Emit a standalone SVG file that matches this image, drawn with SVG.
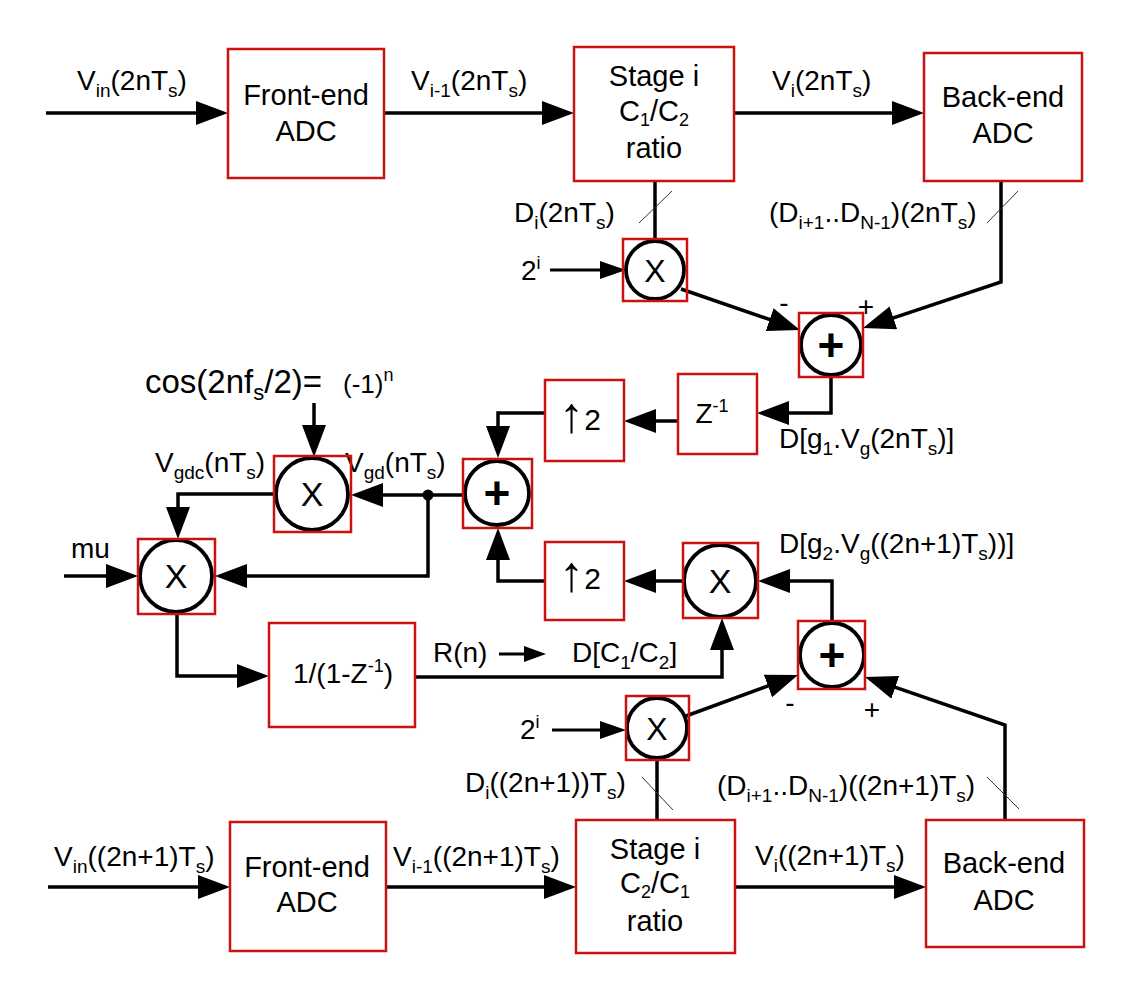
<svg xmlns="http://www.w3.org/2000/svg" width="1125" height="988" viewBox="0 0 1125 988">
<style>
text { font-family: "Liberation Sans", Arial, "DejaVu Sans", sans-serif; font-size: 28px; fill: #000; }
.sb { font-size: 19px; }
.sbb { font-size: 18px; }
.sp { font-size: 18px; }
.mid { text-anchor: middle; }
.bt { font-size: 29px; }
.box { fill: #fff; stroke: #cc1111; stroke-width: 2.5; }
.rbox { fill: none; stroke: #cc1111; stroke-width: 2.5; }
.circ { fill: #fff; stroke: #000; stroke-width: 3.8; }
.wire { fill: none; stroke: #000; stroke-width: 3.5; }
.wthin { fill: none; stroke: #000; stroke-width: 3; }
.slash { stroke: #333; stroke-width: 1; }
.xs { font-size: 34px; }
.pl { font-size: 46px; font-weight: bold; }
.arr { font-size: 50px; }
</style>
<defs>
<marker id="ah" markerUnits="userSpaceOnUse" markerWidth="32" markerHeight="24" refX="22" refY="12" orient="auto" viewBox="0 0 32 24"><path d="M0,0 L32,12 L0,24 Z" fill="#000"/></marker>
<marker id="as" markerUnits="userSpaceOnUse" markerWidth="26" markerHeight="18" refX="18" refY="9" orient="auto" viewBox="0 0 26 18"><path d="M0,0 L26,9 L0,18 Z" fill="#000"/></marker>
<marker id="ar" markerUnits="userSpaceOnUse" markerWidth="22" markerHeight="16" refX="14" refY="8" orient="auto" viewBox="0 0 22 16"><path d="M0,0 L22,8 L0,16 Z" fill="#000"/></marker>
</defs>

<g id="connectors">
  <path class="wire" d="M46,113 H218" marker-end="url(#ah)"/>
  <path class="wire" d="M384,113 H564" marker-end="url(#ah)"/>
  <path class="wire" d="M734,113 H914" marker-end="url(#ah)"/>
  <path class="wire" d="M655,181 V241"/>
  <line class="slash" x1="639" y1="223" x2="672" y2="191"/>
  <path class="wthin" d="M550,270 H618" marker-end="url(#as)"/>
  <path class="wire" d="M1001,181 V282 L872.5,324.8" marker-end="url(#ah)"/>
  <line class="slash" x1="987" y1="223" x2="1018" y2="191"/>
  <path class="wire" d="M681,289 L790.5,326.7" marker-end="url(#ah)"/>
  <path class="wire" d="M831,375 V413 H767" marker-end="url(#ah)"/>
  <path class="wire" d="M678,421 H634" marker-end="url(#ah)"/>
  <path class="wire" d="M545,413 H498 V448" marker-end="url(#ah)"/>
  <path class="wire" d="M463,495 H361" marker-end="url(#ah)"/>
  <circle cx="428" cy="495" r="5.5" fill="#000"/>
  <path class="wire" d="M428,495 V576 H225" marker-end="url(#ah)"/>
  <path class="wire" d="M274,494 H178 V529" marker-end="url(#ah)"/>
  <path class="wire" d="M314,403 V447" marker-end="url(#ah)"/>
  <path class="wire" d="M64,576 H128" marker-end="url(#ah)"/>
  <path class="wire" d="M177,614 V676 H259" marker-end="url(#ah)"/>
  <path class="wire" d="M415,677 H722 V628" marker-end="url(#ah)"/>
  <path class="wire" d="M683,581 H634" marker-end="url(#ah)"/>
  <path class="wire" d="M545,581 H498 V538" marker-end="url(#ah)"/>
  <path class="wire" d="M832,621 V581 H768" marker-end="url(#ah)"/>
  <path class="wire" d="M686,716 L788.6,678.4" marker-end="url(#ah)"/>
  <path class="wire" d="M1005,820 V725 L874.5,680.2" marker-end="url(#ah)"/>
  <path class="wthin" d="M552,730 H618" marker-end="url(#as)"/>
  <path class="wire" d="M657,820 V758"/>
  <line class="slash" x1="642" y1="777" x2="673" y2="810"/>
  <line class="slash" x1="987" y1="777" x2="1019" y2="809"/>
  <path class="wire" d="M48,887 H220" marker-end="url(#ah)"/>
  <path class="wire" d="M386,887 H566" marker-end="url(#ah)"/>
  <path class="wire" d="M735,887 H916" marker-end="url(#ah)"/>
  <path class="wthin" d="M499,654 H538" marker-end="url(#ar)"/>
</g>

<g id="labels">
  <text x="77" y="90">V<tspan class="sb" dy="7">in</tspan><tspan dy="-7">(2nT</tspan><tspan class="sb" dy="7">s</tspan><tspan dy="-7">)</tspan></text>
  <text x="411" y="90">V<tspan class="sb" dy="7">i-1</tspan><tspan dy="-7">(2nT</tspan><tspan class="sb" dy="7">s</tspan><tspan dy="-7">)</tspan></text>
  <text x="772" y="90">V<tspan class="sb" dy="7">i</tspan><tspan dy="-7">(2nT</tspan><tspan class="sb" dy="7">s</tspan><tspan dy="-7">)</tspan></text>
  <text x="514" y="222">D<tspan class="sb" dy="7">i</tspan><tspan dy="-7">(2nT</tspan><tspan class="sb" dy="7">s</tspan><tspan dy="-7">)</tspan></text>
  <text x="769" y="222">(D<tspan class="sb" dy="7">i+1</tspan><tspan dy="-7">..D</tspan><tspan class="sb" dy="7">N-1</tspan><tspan dy="-7">)(2nT</tspan><tspan class="sb" dy="7">s</tspan><tspan dy="-7">)</tspan></text>
  <text x="521" y="280">2<tspan class="sp" dy="-11">i</tspan></text>
  <text x="784" y="312" class="mid">-</text>
  <text x="866" y="316" class="mid">+</text>
  <text x="779" y="448">D[g<tspan class="sb" dy="7">1</tspan><tspan dy="-7">.V</tspan><tspan class="sb" dy="7">g</tspan><tspan dy="-7">(2nT</tspan><tspan class="sb" dy="7">s</tspan><tspan dy="-7">)]</tspan></text>
  <text x="145" y="393" style="font-size:33px">cos(2nf<tspan dy="7" style="font-size:22px">s</tspan><tspan dy="-7">/2)=</tspan><tspan x="343" style="font-size:26px">(-1)</tspan><tspan dy="-12" class="sp">n</tspan></text>
  <text x="155" y="472">V<tspan class="sb" dy="7">gdc</tspan><tspan dy="-7">(nT</tspan><tspan class="sb" dy="7">s</tspan><tspan dy="-7">)</tspan></text>
  <text x="345" y="472">V<tspan class="sb" dy="7">gd</tspan><tspan dy="-7">(nT</tspan><tspan class="sb" dy="7">s</tspan><tspan dy="-7">)</tspan></text>
  <text x="71" y="558">mu</text>
  <text x="779" y="553">D[g<tspan class="sb" dy="7">2</tspan><tspan dy="-7">.V</tspan><tspan class="sb" dy="7">g</tspan><tspan dy="-7">((2n+1)T</tspan><tspan class="sb" dy="7">s</tspan><tspan dy="-7">))]</tspan></text>
  <text x="433" y="662">R(n)</text>
  <text x="572" y="662">D[C<tspan class="sb" dy="7">1</tspan><tspan dy="-7">/C</tspan><tspan class="sb" dy="7">2</tspan><tspan dy="-7">]</tspan></text>
  <text x="520" y="739">2<tspan class="sp" dy="-11">i</tspan></text>
  <text x="790" y="712" class="mid">-</text>
  <text x="872" y="719" class="mid">+</text>
  <text x="465" y="792">D<tspan class="sb" dy="7">i</tspan><tspan dy="-7">((2n+1))T</tspan><tspan class="sb" dy="7">s</tspan><tspan dy="-7">)</tspan></text>
  <text x="717" y="795">(D<tspan class="sb" dy="7">i+1</tspan><tspan dy="-7">..D</tspan><tspan class="sb" dy="7">N-1</tspan><tspan dy="-7">)((2n+1)T</tspan><tspan class="sb" dy="7">s</tspan><tspan dy="-7">)</tspan></text>
  <text x="54" y="866">V<tspan class="sb" dy="7">in</tspan><tspan dy="-7">((2n+1)T</tspan><tspan class="sb" dy="7">s</tspan><tspan dy="-7">)</tspan></text>
  <text x="393" y="866">V<tspan class="sb" dy="7">i-1</tspan><tspan dy="-7">((2n+1)T</tspan><tspan class="sb" dy="7">s</tspan><tspan dy="-7">)</tspan></text>
  <text x="755" y="865">V<tspan class="sb" dy="7">i</tspan><tspan dy="-7">((2n+1)T</tspan><tspan class="sb" dy="7">s</tspan><tspan dy="-7">)</tspan></text>
</g>

<g id="frontend1">
  <rect class="box" x="228" y="49" width="156" height="129"/>
  <text x="306" y="105" class="mid bt">Front-end</text>
  <text x="306" y="141" class="mid bt">ADC</text>
</g>
<g id="stage1">
  <rect class="box" x="574" y="47" width="160" height="134"/>
  <text x="654" y="86" class="mid bt">Stage i</text>
  <text x="654" y="121" class="mid bt">C<tspan class="sbb" dy="5">1</tspan><tspan dy="-5">/C</tspan><tspan class="sbb" dy="5">2</tspan></text>
  <text x="654" y="158" class="mid bt">ratio</text>
</g>
<g id="backend1">
  <rect class="box" x="924" y="53" width="158" height="128"/>
  <text x="1003" y="107" class="mid bt">Back-end</text>
  <text x="1003" y="143" class="mid bt">ADC</text>
</g>
<g id="mult1">
  <circle class="circ" cx="655" cy="270" r="29"/>
  <rect class="rbox" x="623" y="239" width="64" height="62"/>
  <text x="655" y="282" class="mid" style="font-size:32px">X</text>
</g>
<g id="sum1">
  <circle class="circ" cx="831" cy="345" r="30"/>
  <rect class="rbox" x="799" y="313" width="64" height="64"/>
  <text x="831" y="361" class="mid pl">+</text>
</g>
<g id="delay">
  <rect class="box" x="678" y="374" width="79" height="80"/>
  <text x="712" y="423" class="mid">Z<tspan class="sp" dy="-11">-1</tspan></text>
</g>
<g id="up1">
  <rect class="box" x="545" y="380" width="79" height="81"/>
  <text x="580" y="430" class="mid" style="font-size:30px"><tspan class="arr" dy="2">↑</tspan><tspan dy="-2">2</tspan></text>
</g>
<g id="sum2">
  <circle class="circ" cx="497" cy="493" r="32"/>
  <rect class="rbox" x="463" y="459" width="69" height="69"/>
  <text x="497" y="509" class="mid pl">+</text>
</g>
<g id="multcos">
  <circle class="circ" cx="312" cy="494" r="36"/>
  <rect class="rbox" x="274" y="456" width="77" height="76"/>
  <text x="312" y="506" class="mid xs">X</text>
</g>
<g id="multmu">
  <circle class="circ" cx="176" cy="576" r="36"/>
  <rect class="rbox" x="138" y="539" width="77" height="75"/>
  <text x="176" y="588" class="mid xs">X</text>
</g>
<g id="integrator">
  <rect class="box" x="269" y="623" width="146" height="104"/>
  <text x="343" y="683" class="mid">1/(1-Z<tspan class="sp" dy="-11">-1</tspan><tspan dy="11">)</tspan></text>
</g>
<g id="up2">
  <rect class="box" x="545" y="542" width="79" height="78"/>
  <text x="580" y="589" class="mid" style="font-size:30px"><tspan class="arr" dy="2">↑</tspan><tspan dy="-2">2</tspan></text>
</g>
<g id="mult2">
  <circle class="circ" cx="720" cy="581" r="36"/>
  <rect class="rbox" x="683" y="543" width="75" height="75"/>
  <text x="720" y="593" class="mid xs">X</text>
</g>
<g id="sum3">
  <circle class="circ" cx="832" cy="655" r="32"/>
  <rect class="rbox" x="798" y="621" width="67" height="68"/>
  <text x="832" y="671" class="mid pl">+</text>
</g>
<g id="mult3">
  <circle class="circ" cx="657" cy="728" r="30"/>
  <rect class="rbox" x="626" y="696" width="63" height="64"/>
  <text x="657" y="740" class="mid" style="font-size:32px">X</text>
</g>
<g id="frontend2">
  <rect class="box" x="230" y="822" width="156" height="129"/>
  <text x="307" y="877" class="mid bt">Front-end</text>
  <text x="307" y="912" class="mid bt">ADC</text>
</g>
<g id="stage2">
  <rect class="box" x="576" y="820" width="159" height="133"/>
  <text x="655" y="859" class="mid bt">Stage i</text>
  <text x="655" y="893" class="mid bt">C<tspan class="sbb" dy="5">2</tspan><tspan dy="-5">/C</tspan><tspan class="sbb" dy="5">1</tspan></text>
  <text x="655" y="931" class="mid bt">ratio</text>
</g>
<g id="backend2">
  <rect class="box" x="926" y="820" width="158" height="127"/>
  <text x="1004" y="873" class="mid bt">Back-end</text>
  <text x="1004" y="910" class="mid bt">ADC</text>
</g>
</svg>
